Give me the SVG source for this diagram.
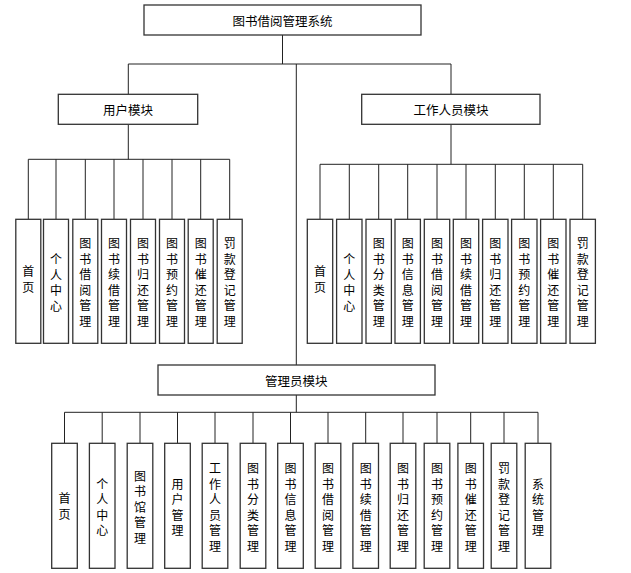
<svg xmlns="http://www.w3.org/2000/svg" width="631" height="573" viewBox="0 0 631 573">
<style>
.box{fill:#fff;stroke:#333;stroke-width:1.3}
.ln{fill:none;stroke:#222;stroke-width:1}
.t{font-family:"Noto Sans CJK SC","Noto Sans CJK JP",sans-serif;font-size:12.5px;fill:#000;text-anchor:middle;dominant-baseline:central}
.v{font-family:"Noto Sans CJK SC","Noto Sans CJK JP",sans-serif;font-size:12px;fill:#000;text-anchor:middle;dominant-baseline:central}
</style>
<rect width="631" height="573" fill="#fff"/>
<g id="connectors">
<path class="ln" d="M282.5 35V64M128.3 64H451M128.3 64V94.3M451 64V94.3M296.3 64V365"/>
<path class="ln" d="M128.3 124.3V159.3M28.3 159.3H229.7M28.3 159.3V219.3M56 159.3V219.3M85.3 159.3V219.3M114 159.3V219.3M143 159.3V219.3M172 159.3V219.3M200.7 159.3V219.3M229.7 159.3V219.3"/>
<path class="ln" d="M451 124.3V164.3M320 164.3H582.7M320 164.3V219.3M349.3 164.3V219.3M378.7 164.3V219.3M407.7 164.3V219.3M437 164.3V219.3M466 164.3V219.3M495.3 164.3V219.3M524.3 164.3V219.3M553.3 164.3V219.3M582.7 164.3V219.3"/>
<path class="ln" d="M296.3 395V412.3M64.5 412.3H538M64.5 412.3V443.3M102.2 412.3V443.3M140 412.3V443.3M177.5 412.3V443.3M215 412.3V443.3M253 412.3V443.3M290.5 412.3V443.3M328 412.3V443.3M365.7 412.3V443.3M403 412.3V443.3M437 412.3V443.3M470.7 412.3V443.3M504 412.3V443.3M538 412.3V443.3"/>
</g>
<g id="root"><rect class="box" x="144" y="5" width="277" height="30"/><text class="t" x="282.5" y="20">图书借阅管理系统</text></g>
<g id="user"><rect class="box" x="58.3" y="94.3" width="139.4" height="30"/><text class="t" x="128" y="109.3">用户模块</text></g>
<g id="staff"><rect class="box" x="361.7" y="94.3" width="178.3" height="30"/><text class="t" x="451" y="109.3">工作人员模块</text></g>
<g id="admin"><rect class="box" x="158" y="365" width="277" height="30"/><text class="t" x="296.3" y="380">管理员模块</text></g>

<g id="u1"><rect class="box" x="15.8" y="219.3" width="25" height="124"/><text class="v"><tspan x="28.3" y="270.3">首</tspan><tspan x="28.3" y="286">页</tspan></text></g>
<g id="u2"><rect class="box" x="43.5" y="219.3" width="25" height="124"/><text class="v"><tspan x="56" y="258">个</tspan><tspan x="56" y="273.5">人</tspan><tspan x="56" y="289">中</tspan><tspan x="56" y="304.5">心</tspan></text></g>
<g id="u3"><rect class="box" x="72.8" y="219.3" width="25" height="124"/><text class="v"><tspan x="85.3" y="242">图</tspan><tspan x="85.3" y="257.5">书</tspan><tspan x="85.3" y="273">借</tspan><tspan x="85.3" y="288.5">阅</tspan><tspan x="85.3" y="304">管</tspan><tspan x="85.3" y="319.5">理</tspan></text></g>
<g id="u4"><rect class="box" x="101.5" y="219.3" width="25" height="124"/><text class="v"><tspan x="114" y="242">图</tspan><tspan x="114" y="257.5">书</tspan><tspan x="114" y="273">续</tspan><tspan x="114" y="288.5">借</tspan><tspan x="114" y="304">管</tspan><tspan x="114" y="319.5">理</tspan></text></g>
<g id="u5"><rect class="box" x="130.5" y="219.3" width="25" height="124"/><text class="v"><tspan x="143" y="242">图</tspan><tspan x="143" y="257.5">书</tspan><tspan x="143" y="273">归</tspan><tspan x="143" y="288.5">还</tspan><tspan x="143" y="304">管</tspan><tspan x="143" y="319.5">理</tspan></text></g>
<g id="u6"><rect class="box" x="159.5" y="219.3" width="25" height="124"/><text class="v"><tspan x="172" y="242">图</tspan><tspan x="172" y="257.5">书</tspan><tspan x="172" y="273">预</tspan><tspan x="172" y="288.5">约</tspan><tspan x="172" y="304">管</tspan><tspan x="172" y="319.5">理</tspan></text></g>
<g id="u7"><rect class="box" x="188.2" y="219.3" width="25" height="124"/><text class="v"><tspan x="200.7" y="242">图</tspan><tspan x="200.7" y="257.5">书</tspan><tspan x="200.7" y="273">催</tspan><tspan x="200.7" y="288.5">还</tspan><tspan x="200.7" y="304">管</tspan><tspan x="200.7" y="319.5">理</tspan></text></g>
<g id="u8"><rect class="box" x="217.2" y="219.3" width="25" height="124"/><text class="v"><tspan x="229.7" y="242">罚</tspan><tspan x="229.7" y="257.5">款</tspan><tspan x="229.7" y="273">登</tspan><tspan x="229.7" y="288.5">记</tspan><tspan x="229.7" y="304">管</tspan><tspan x="229.7" y="319.5">理</tspan></text></g>

<g id="s1"><rect class="box" x="307.3" y="219.3" width="25.4" height="124"/><text class="v"><tspan x="320" y="270.3">首</tspan><tspan x="320" y="286">页</tspan></text></g>
<g id="s2"><rect class="box" x="336.6" y="219.3" width="25.4" height="124"/><text class="v"><tspan x="349.3" y="258">个</tspan><tspan x="349.3" y="273.5">人</tspan><tspan x="349.3" y="289">中</tspan><tspan x="349.3" y="304.5">心</tspan></text></g>
<g id="s3"><rect class="box" x="366" y="219.3" width="25.4" height="124"/><text class="v"><tspan x="378.7" y="242">图</tspan><tspan x="378.7" y="257.5">书</tspan><tspan x="378.7" y="273">分</tspan><tspan x="378.7" y="288.5">类</tspan><tspan x="378.7" y="304">管</tspan><tspan x="378.7" y="319.5">理</tspan></text></g>
<g id="s4"><rect class="box" x="395" y="219.3" width="25.4" height="124"/><text class="v"><tspan x="407.7" y="242">图</tspan><tspan x="407.7" y="257.5">书</tspan><tspan x="407.7" y="273">信</tspan><tspan x="407.7" y="288.5">息</tspan><tspan x="407.7" y="304">管</tspan><tspan x="407.7" y="319.5">理</tspan></text></g>
<g id="s5"><rect class="box" x="424.3" y="219.3" width="25.4" height="124"/><text class="v"><tspan x="437" y="242">图</tspan><tspan x="437" y="257.5">书</tspan><tspan x="437" y="273">借</tspan><tspan x="437" y="288.5">阅</tspan><tspan x="437" y="304">管</tspan><tspan x="437" y="319.5">理</tspan></text></g>
<g id="s6"><rect class="box" x="453.3" y="219.3" width="25.4" height="124"/><text class="v"><tspan x="466" y="242">图</tspan><tspan x="466" y="257.5">书</tspan><tspan x="466" y="273">续</tspan><tspan x="466" y="288.5">借</tspan><tspan x="466" y="304">管</tspan><tspan x="466" y="319.5">理</tspan></text></g>
<g id="s7"><rect class="box" x="482.6" y="219.3" width="25.4" height="124"/><text class="v"><tspan x="495.3" y="242">图</tspan><tspan x="495.3" y="257.5">书</tspan><tspan x="495.3" y="273">归</tspan><tspan x="495.3" y="288.5">还</tspan><tspan x="495.3" y="304">管</tspan><tspan x="495.3" y="319.5">理</tspan></text></g>
<g id="s8"><rect class="box" x="511.6" y="219.3" width="25.4" height="124"/><text class="v"><tspan x="524.3" y="242">图</tspan><tspan x="524.3" y="257.5">书</tspan><tspan x="524.3" y="273">预</tspan><tspan x="524.3" y="288.5">约</tspan><tspan x="524.3" y="304">管</tspan><tspan x="524.3" y="319.5">理</tspan></text></g>
<g id="s9"><rect class="box" x="540.6" y="219.3" width="25.4" height="124"/><text class="v"><tspan x="553.3" y="242">图</tspan><tspan x="553.3" y="257.5">书</tspan><tspan x="553.3" y="273">催</tspan><tspan x="553.3" y="288.5">还</tspan><tspan x="553.3" y="304">管</tspan><tspan x="553.3" y="319.5">理</tspan></text></g>
<g id="s10"><rect class="box" x="570" y="219.3" width="25.4" height="124"/><text class="v"><tspan x="582.7" y="242">罚</tspan><tspan x="582.7" y="257.5">款</tspan><tspan x="582.7" y="273">登</tspan><tspan x="582.7" y="288.5">记</tspan><tspan x="582.7" y="304">管</tspan><tspan x="582.7" y="319.5">理</tspan></text></g>

<g id="a1"><rect class="box" x="51.7" y="443.3" width="25.6" height="125"/><text class="v"><tspan x="64.5" y="497">首</tspan><tspan x="64.5" y="512.5">页</tspan></text></g>
<g id="a2"><rect class="box" x="89.4" y="443.3" width="25.6" height="125"/><text class="v"><tspan x="102.2" y="482.5">个</tspan><tspan x="102.2" y="498">人</tspan><tspan x="102.2" y="513.5">中</tspan><tspan x="102.2" y="529">心</tspan></text></g>
<g id="a3"><rect class="box" x="127.2" y="443.3" width="25.6" height="125"/><text class="v"><tspan x="140" y="474.5">图</tspan><tspan x="140" y="490">书</tspan><tspan x="140" y="505.5">馆</tspan><tspan x="140" y="521">管</tspan><tspan x="140" y="536.5">理</tspan></text></g>
<g id="a4"><rect class="box" x="164.7" y="443.3" width="25.6" height="125"/><text class="v"><tspan x="177.5" y="482.5">用</tspan><tspan x="177.5" y="498">户</tspan><tspan x="177.5" y="513.5">管</tspan><tspan x="177.5" y="529">理</tspan></text></g>
<g id="a5"><rect class="box" x="202.2" y="443.3" width="25.6" height="125"/><text class="v"><tspan x="215" y="467">工</tspan><tspan x="215" y="482.5">作</tspan><tspan x="215" y="498">人</tspan><tspan x="215" y="513.5">员</tspan><tspan x="215" y="529">管</tspan><tspan x="215" y="544.5">理</tspan></text></g>
<g id="a6"><rect class="box" x="240.2" y="443.3" width="25.6" height="125"/><text class="v"><tspan x="253" y="467">图</tspan><tspan x="253" y="482.5">书</tspan><tspan x="253" y="498">分</tspan><tspan x="253" y="513.5">类</tspan><tspan x="253" y="529">管</tspan><tspan x="253" y="544.5">理</tspan></text></g>
<g id="a7"><rect class="box" x="277.7" y="443.3" width="25.6" height="125"/><text class="v"><tspan x="290.5" y="467">图</tspan><tspan x="290.5" y="482.5">书</tspan><tspan x="290.5" y="498">信</tspan><tspan x="290.5" y="513.5">息</tspan><tspan x="290.5" y="529">管</tspan><tspan x="290.5" y="544.5">理</tspan></text></g>
<g id="a8"><rect class="box" x="315.2" y="443.3" width="25.6" height="125"/><text class="v"><tspan x="328" y="467">图</tspan><tspan x="328" y="482.5">书</tspan><tspan x="328" y="498">借</tspan><tspan x="328" y="513.5">阅</tspan><tspan x="328" y="529">管</tspan><tspan x="328" y="544.5">理</tspan></text></g>
<g id="a9"><rect class="box" x="352.9" y="443.3" width="25.6" height="125"/><text class="v"><tspan x="365.7" y="467">图</tspan><tspan x="365.7" y="482.5">书</tspan><tspan x="365.7" y="498">续</tspan><tspan x="365.7" y="513.5">借</tspan><tspan x="365.7" y="529">管</tspan><tspan x="365.7" y="544.5">理</tspan></text></g>
<g id="a10"><rect class="box" x="390.2" y="443.3" width="25.6" height="125"/><text class="v"><tspan x="403" y="467">图</tspan><tspan x="403" y="482.5">书</tspan><tspan x="403" y="498">归</tspan><tspan x="403" y="513.5">还</tspan><tspan x="403" y="529">管</tspan><tspan x="403" y="544.5">理</tspan></text></g>
<g id="a11"><rect class="box" x="424.2" y="443.3" width="25.6" height="125"/><text class="v"><tspan x="437" y="467">图</tspan><tspan x="437" y="482.5">书</tspan><tspan x="437" y="498">预</tspan><tspan x="437" y="513.5">约</tspan><tspan x="437" y="529">管</tspan><tspan x="437" y="544.5">理</tspan></text></g>
<g id="a12"><rect class="box" x="457.9" y="443.3" width="25.6" height="125"/><text class="v"><tspan x="470.7" y="467">图</tspan><tspan x="470.7" y="482.5">书</tspan><tspan x="470.7" y="498">催</tspan><tspan x="470.7" y="513.5">还</tspan><tspan x="470.7" y="529">管</tspan><tspan x="470.7" y="544.5">理</tspan></text></g>
<g id="a13"><rect class="box" x="491.2" y="443.3" width="25.6" height="125"/><text class="v"><tspan x="504" y="467">罚</tspan><tspan x="504" y="482.5">款</tspan><tspan x="504" y="498">登</tspan><tspan x="504" y="513.5">记</tspan><tspan x="504" y="529">管</tspan><tspan x="504" y="544.5">理</tspan></text></g>
<g id="a14"><rect class="box" x="525.2" y="443.3" width="25.6" height="125"/><text class="v"><tspan x="538" y="482.5">系</tspan><tspan x="538" y="498">统</tspan><tspan x="538" y="513.5">管</tspan><tspan x="538" y="529">理</tspan></text></g>
</svg>
